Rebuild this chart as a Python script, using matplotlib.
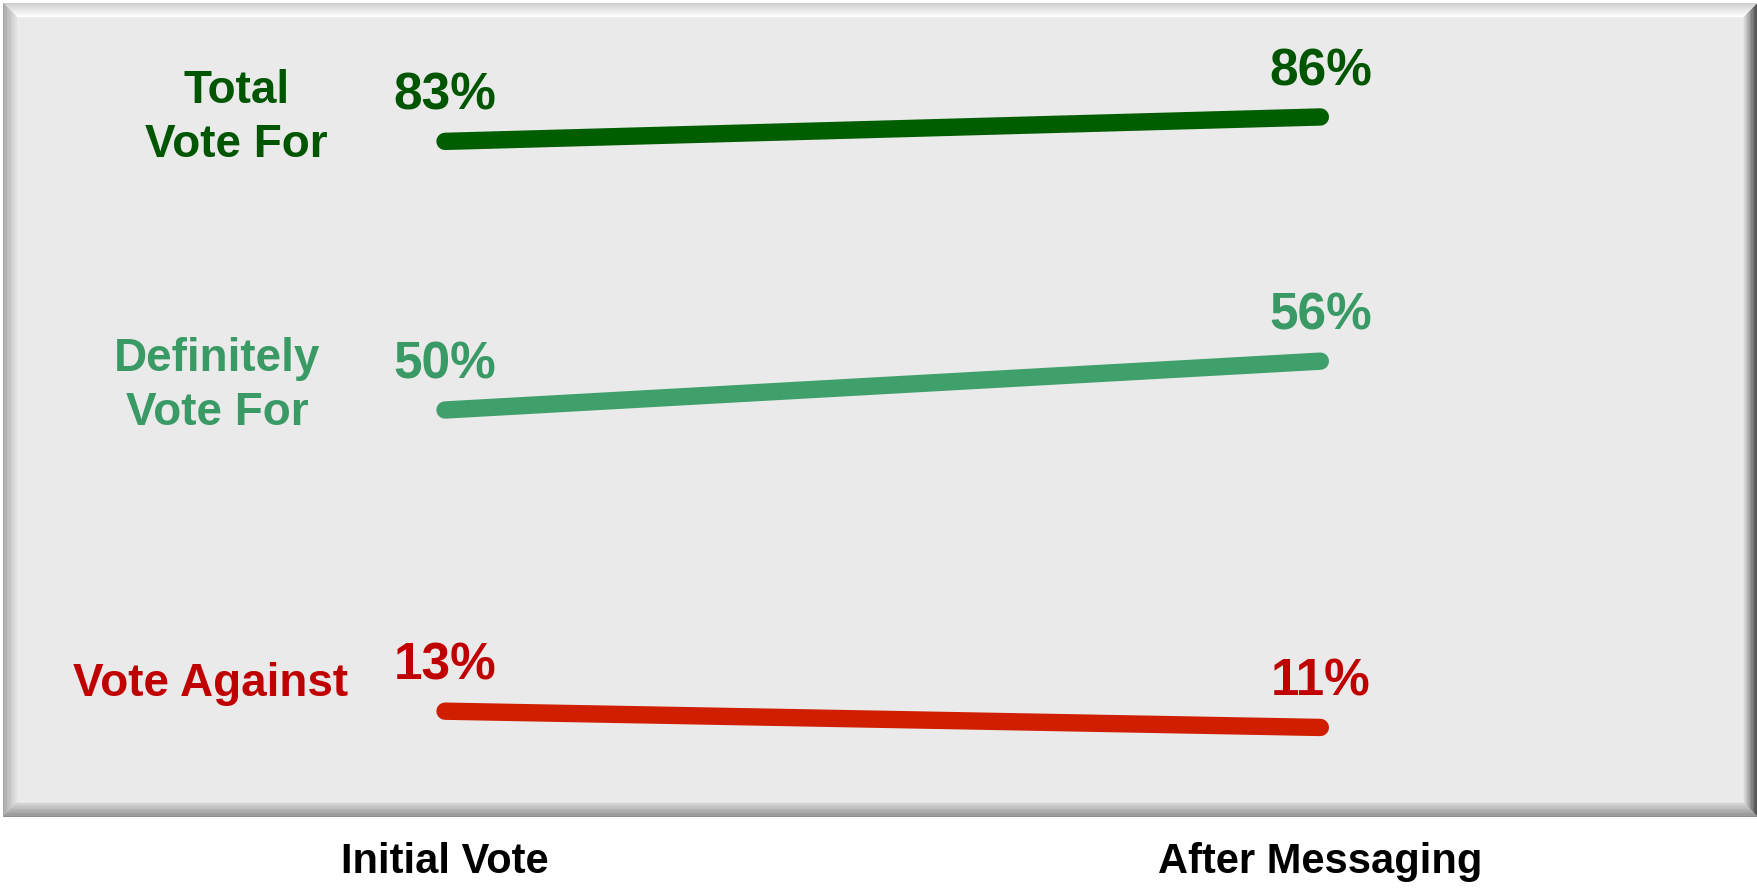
import numpy as np
import matplotlib.pyplot as plt
from matplotlib.patches import Polygon
from matplotlib.colors import to_rgb

# data
stages = ["Initial Vote", "After Messaging"]
series_names = ["Total\nVote For", "Definitely\nVote For", "Vote Against"]
total_vote_for = [83, 86]
definitely_vote_for = [50, 56]
vote_against = [13, 11]

# style
line_colors = ["#005E00", "#3FA06C", "#D01E00"]
text_colors = ["#005500", "#3A9A66", "#C00000"]
label_offsets = [(-150, 17), (-164, 17), (-169, 11)]  # points, from the first point
label_va = ["center", "center", "baseline"]
panel_color = "#EAEAEA"

plt.rcParams['font.family'] = ['Liberation Sans', 'DejaVu Sans']
plt.rcParams['font.weight'] = 'bold'

fig = plt.figure(figsize=(17.58, 8.90), dpi=100)
fig.patch.set_facecolor("white")
ax = fig.add_axes([3 / 1758, 1 - 817 / 890, 1755 / 1758, 814 / 890])
ax.set_facecolor(panel_color)
ax.set_xlim(-0.505, 1.5)
ax.set_ylim(0, 100)


def bevel_side(side, outer, inner, n=10, width_px=14):
    # draws one side of the raised frame as strips fading from outer to inner colour
    bx, by = width_px / 1755, width_px / 814
    c0, c1 = np.array(to_rgb(outer)), np.array(to_rgb(inner))
    for k in range(n):
        a, b = k / n, (k + 1) / n
        col = c0 + (c1 - c0) * (k / (n - 1))
        if side == "top":
            pts = [(a * bx, 1 - a * by), (1 - a * bx, 1 - a * by), (1 - b * bx, 1 - b * by), (b * bx, 1 - b * by)]
        elif side == "bottom":
            pts = [(a * bx, a * by), (1 - a * bx, a * by), (1 - b * bx, b * by), (b * bx, b * by)]
        elif side == "left":
            pts = [(a * bx, a * by), (a * bx, 1 - a * by), (b * bx, 1 - b * by), (b * bx, b * by)]
        else:
            pts = [(1 - a * bx, a * by), (1 - a * bx, 1 - a * by), (1 - b * bx, 1 - b * by), (1 - b * bx, b * by)]
        ax.add_patch(Polygon(pts, closed=True, transform=ax.transAxes,
                             facecolor=col, edgecolor=col, lw=0.3, zorder=1))


bevel_side("top", "#CFCFCF", "#FFFFFF")
bevel_side("left", "#A6A6A6", "#E2E2E2")
bevel_side("right", "#3A3A3A", "#D6D6D6")
bevel_side("bottom", "#8E8E8E", "#D2D2D2")

x = list(range(len(stages)))
all_series = [total_vote_for, definitely_vote_for, vote_against]
for i, vals in enumerate(all_series):
    ax.plot(x, vals, color=line_colors[i], lw=12.5, solid_capstyle='round', zorder=3)
    for xi, v in zip(x, vals):
        ax.annotate(f"{v}%", xy=(xi, v), xytext=(0, 23), textcoords='offset points',
                    ha='center', va='baseline', fontsize=37, fontweight='bold',
                    color=text_colors[i], zorder=4)
    ax.annotate(series_names[i], xy=(0, vals[0]), xytext=label_offsets[i],
                textcoords='offset points', ha='center', va=label_va[i],
                fontsize=33, fontweight='bold', color=text_colors[i],
                linespacing=1.3, multialignment='center', zorder=4)

ax.set_xticks(x)
ax.set_xticklabels(stages, fontsize=30, fontweight='bold', color='black')
ax.tick_params(axis='x', length=0, pad=18)
ax.set_yticks([])
for s in ax.spines.values():
    s.set_visible(False)

fig.savefig("out.png", dpi=100)
